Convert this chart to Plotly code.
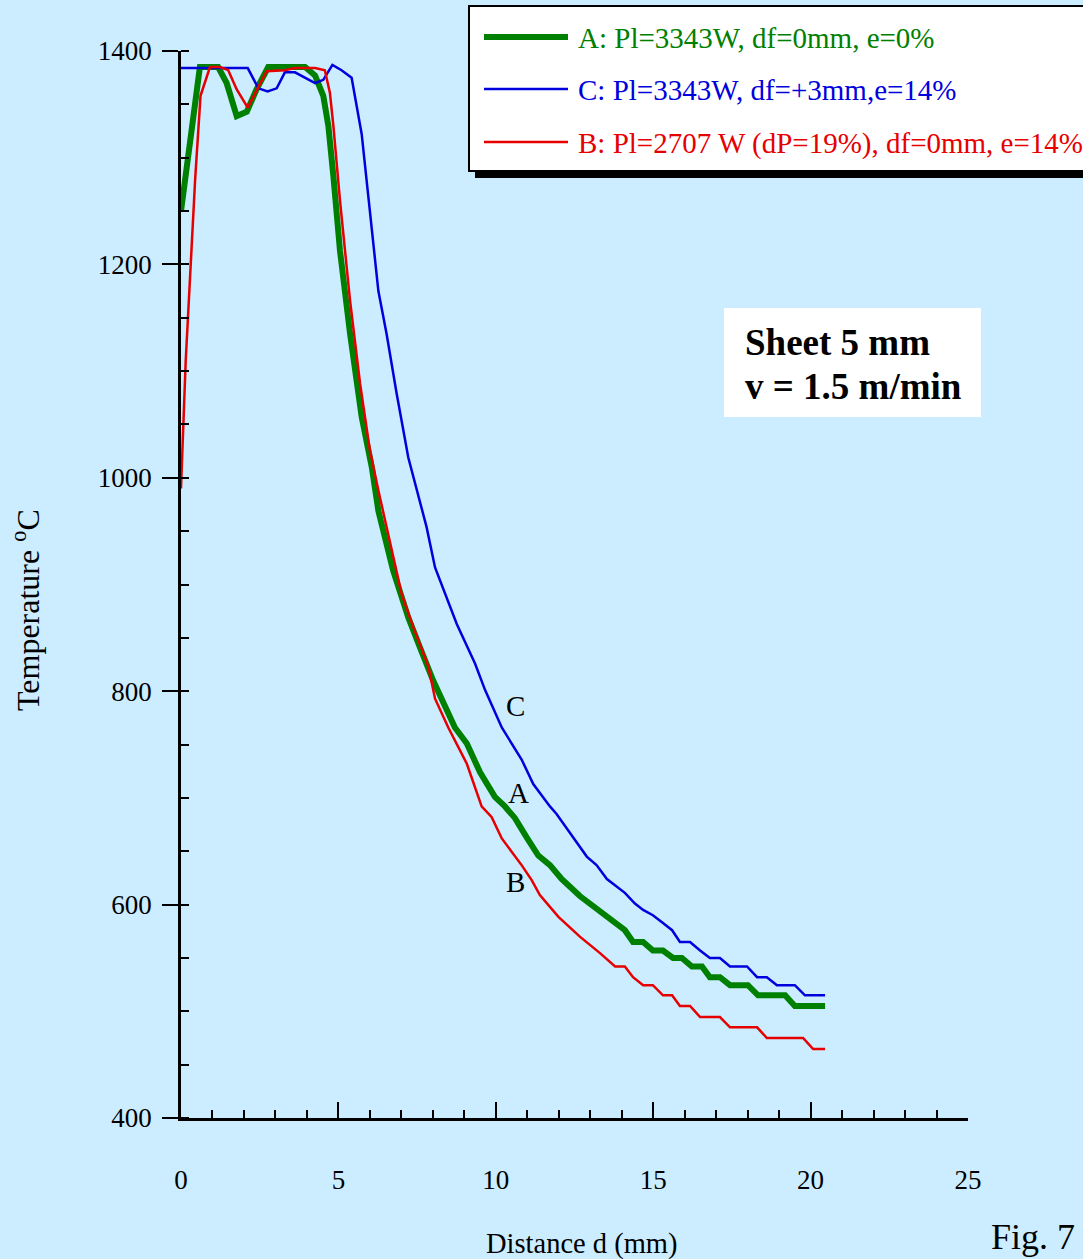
import plotly.graph_objects as go

# ---- measured temperature profiles along the distance from the laser spot ----
dist_A = [0, 0.6, 1.18, 1.45, 1.77, 2.09, 2.40, 2.77, 3.94, 4.26, 4.52, 4.68, 4.84, 5.05,
          5.37, 5.74, 6.06, 6.27, 6.74, 7.22, 7.59, 8.01, 8.70, 9.08, 9.50, 9.97, 10.29,
          10.61, 10.98, 11.35, 11.72, 12.09, 12.67, 13.31, 13.63, 14.10, 14.36, 14.68,
          14.99, 15.31, 15.63, 15.91, 16.23, 16.55, 16.80, 17.12, 17.44, 18.01, 18.33,
          19.19, 19.50, 20.46]
temp_A = [1250, 1385, 1385, 1370, 1339, 1343, 1364, 1385, 1385, 1377, 1358, 1330, 1283, 1213,
          1135, 1057, 1010, 969, 913, 869, 841, 810, 766, 751, 724, 701, 692,
          681, 663, 646, 637, 624, 608, 593, 587, 576, 565, 565,
          557, 557, 550, 550, 542, 542, 532, 532, 524.5, 524.5, 515,
          515, 505, 505]

dist_C = [0, 2.12, 2.46, 2.75, 3.04, 3.30, 3.62, 4.26, 4.52, 4.81, 5.10, 5.42, 5.74, 6.00,
          6.27, 6.53, 6.85, 7.22, 7.49, 7.80, 8.07, 8.39, 8.76, 9.34, 9.66, 10.19, 10.82,
          11.19, 11.72, 11.93, 12.57, 12.89, 13.20, 13.53, 14.10, 14.42, 14.68, 14.99,
          15.28, 15.60, 15.85, 16.17, 16.49, 16.80, 17.12, 17.44, 17.98, 18.30, 18.61,
          18.93, 19.50, 19.82, 20.46]
temp_C = [1384, 1384, 1365, 1362, 1365, 1380, 1380, 1370, 1373, 1387, 1382, 1375, 1322, 1250,
          1175, 1135, 1079, 1019, 988, 954, 916, 891, 863, 826, 801, 766, 736,
          713, 692, 685, 659, 645, 637, 624, 611, 601, 595, 590,
          583.5, 576, 565, 565, 557, 550, 550, 542, 542, 532, 532,
          524.5, 524.5, 515, 515]

dist_B = [0, 0.15, 0.45, 0.62, 0.92, 1.24, 1.50, 1.77, 2.12, 2.46, 2.72, 3.30, 3.62, 4.26,
          4.57, 4.73, 4.84, 5.05, 5.37, 5.69, 6.00, 6.27, 6.64, 7.01, 7.38, 7.86, 8.07,
          8.49, 9.08, 9.55, 9.87, 10.19, 10.82, 11.14, 11.40, 11.99, 12.67, 13.15, 13.31,
          13.79, 14.10, 14.36, 14.68, 14.99, 15.31, 15.60, 15.85, 16.17, 16.49, 17.12,
          17.44, 18.30, 18.61, 19.76, 20.08, 20.46]
temp_B = [990, 1110, 1280, 1358, 1385, 1385, 1382, 1364, 1347, 1367, 1381, 1382, 1384, 1384,
          1382, 1361, 1330, 1260, 1166, 1088, 1026, 988, 938, 891, 860, 823, 793,
          766, 732, 692, 682, 662, 637, 623, 609, 588.5, 570, 559, 554.5,
          542, 542, 532, 524.5, 524.5, 515, 515, 505, 505, 494.6, 494.6,
          485, 485, 475, 475, 464.6, 464.6]

series_names = ["A: Pl=3343W, df=0mm, e=0%",
                "C: Pl=3343W, df=+3mm,e=14%",
                "B: Pl=2707 W (dP=19%), df=0mm, e=14%"]
curve_tags = ["A", "C", "B"]
tag_pos_x = [10.71, 10.61, 10.61]
tag_pos_y = [705, 786, 621]

x_ticks = [0, 5, 10, 15, 20, 25]
y_ticks = [400, 600, 800, 1000, 1200, 1400]

GREEN, BLUE, RED = "#008000", "#0000DD", "#E60000"
BG = "#CCECFF"
SERIF = "Liberation Serif, Times New Roman, serif"

W, H = 1083, 1259
L, R, T, B = 181, 968, 51, 1118  # plot-area edges in pixels


def fx(p):
    """pixel column -> paper x"""
    return (p - L) / (R - L)


def fy(p):
    """pixel row -> paper y"""
    return (B - p) / (B - T)


fig = go.Figure()
fig.add_trace(go.Scatter(x=dist_A, y=temp_A, mode="lines", name=series_names[0],
                         line=dict(color=GREEN, width=6), showlegend=False))
fig.add_trace(go.Scatter(x=dist_C, y=temp_C, mode="lines", name=series_names[1],
                         line=dict(color=BLUE, width=2.5), showlegend=False))
fig.add_trace(go.Scatter(x=dist_B, y=temp_B, mode="lines", name=series_names[2],
                         line=dict(color=RED, width=2.5), showlegend=False))

shapes = []
annotations = []

# legend panel with a drop shadow
shapes.append(dict(type="rect", xref="paper", yref="paper",
                   x0=fx(475), x1=fx(1095), y0=fy(178), y1=fy(12),
                   fillcolor="black", line=dict(width=0)))
shapes.append(dict(type="rect", xref="paper", yref="paper",
                   x0=fx(469), x1=fx(1090), y0=fy(171), y1=fy(6),
                   fillcolor="white", line=dict(color="black", width=2)))
legend_rows = [37, 89, 142]
legend_colors = [GREEN, BLUE, RED]
legend_widths = [6, 2.5, 2.5]
for name, row, col, lw in zip(series_names, legend_rows, legend_colors, legend_widths):
    shapes.append(dict(type="line", xref="paper", yref="paper",
                       x0=fx(484), x1=fx(568), y0=fy(row), y1=fy(row),
                       line=dict(color=col, width=lw)))
    annotations.append(dict(xref="paper", yref="paper", x=fx(576), y=fy(row + 1),
                            xanchor="left", yanchor="middle", showarrow=False,
                            text=name, font=dict(family=SERIF, size=29, color=col)))

# sheet / speed info box
shapes.append(dict(type="rect", xref="paper", yref="paper",
                   x0=fx(724), x1=fx(981), y0=fy(417), y1=fy(308),
                   fillcolor="white", line=dict(width=0)))
for txt, row in [("Sheet 5 mm", 343), ("v = 1.5 m/min", 386)]:
    annotations.append(dict(xref="paper", yref="paper", x=fx(743), y=fy(row),
                            xanchor="left", yanchor="middle", showarrow=False,
                            text="<b>" + txt + "</b>",
                            font=dict(family=SERIF, size=37, color="black")))

# curve tags
for tag, tx, ty in zip(curve_tags, tag_pos_x, tag_pos_y):
    annotations.append(dict(xref="x", yref="y", x=tx, y=ty, showarrow=False,
                            xanchor="center", yanchor="middle",
                            text=tag, font=dict(family=SERIF, size=29, color="black")))

# axis titles and figure number
annotations.append(dict(xref="paper", yref="paper", x=fx(582), y=fy(1244),
                        xanchor="center", yanchor="middle",
                        showarrow=False, text="Distance d (mm)",
                        font=dict(family=SERIF, size=28.5, color="black")))
annotations.append(dict(xref="paper", yref="paper", x=fx(26), y=fy(610),
                        xanchor="center", yanchor="middle",
                        showarrow=False, textangle=-90,
                        text="Temperature <sup>o</sup>C",
                        font=dict(family=SERIF, size=32, color="black")))
annotations.append(dict(xref="paper", yref="paper", x=fx(1033), y=fy(1237),
                        xanchor="center", yanchor="middle",
                        showarrow=False, text="Fig. 7",
                        font=dict(family=SERIF, size=36, color="black")))

tick_font = dict(family=SERIF, size=27, color="black")

fig.update_layout(
    width=W, height=H,
    margin=dict(l=L, r=W - R, t=T, b=H - B, pad=0),
    paper_bgcolor=BG, plot_bgcolor=BG,
    showlegend=False,
    shapes=shapes, annotations=annotations,
    xaxis=dict(range=[0, 25], tickvals=x_ticks, ticks="inside", ticklen=16,
               tickwidth=2, tickcolor="black", showline=True, linecolor="black",
               linewidth=2.5, showgrid=False, zeroline=False, tickfont=tick_font,
               ticklabelstandoff=36,
               minor=dict(ticks="inside", dtick=1, ticklen=8, tickwidth=2,
                          tickcolor="black", showgrid=False)),
    yaxis=dict(range=[400, 1400], tickvals=y_ticks, ticks="outside", ticklen=16,
               tickwidth=2, tickcolor="black", showline=True, linecolor="black",
               linewidth=2.5, showgrid=False, zeroline=False, tickfont=tick_font,
               ticklabelstandoff=5,
               minor=dict(ticks="inside", dtick=50, ticklen=8, tickwidth=2,
                          tickcolor="black", showgrid=False)),
    # second y axis only supplies the inward half of the major ticks
    yaxis2=dict(range=[400, 1400], tickvals=y_ticks, ticks="inside", ticklen=16,
                tickwidth=2, tickcolor="black", overlaying="y", side="left",
                anchor="x", showline=False, showgrid=False, zeroline=False,
                showticklabels=False),
)

fig.write_html("out.html")
